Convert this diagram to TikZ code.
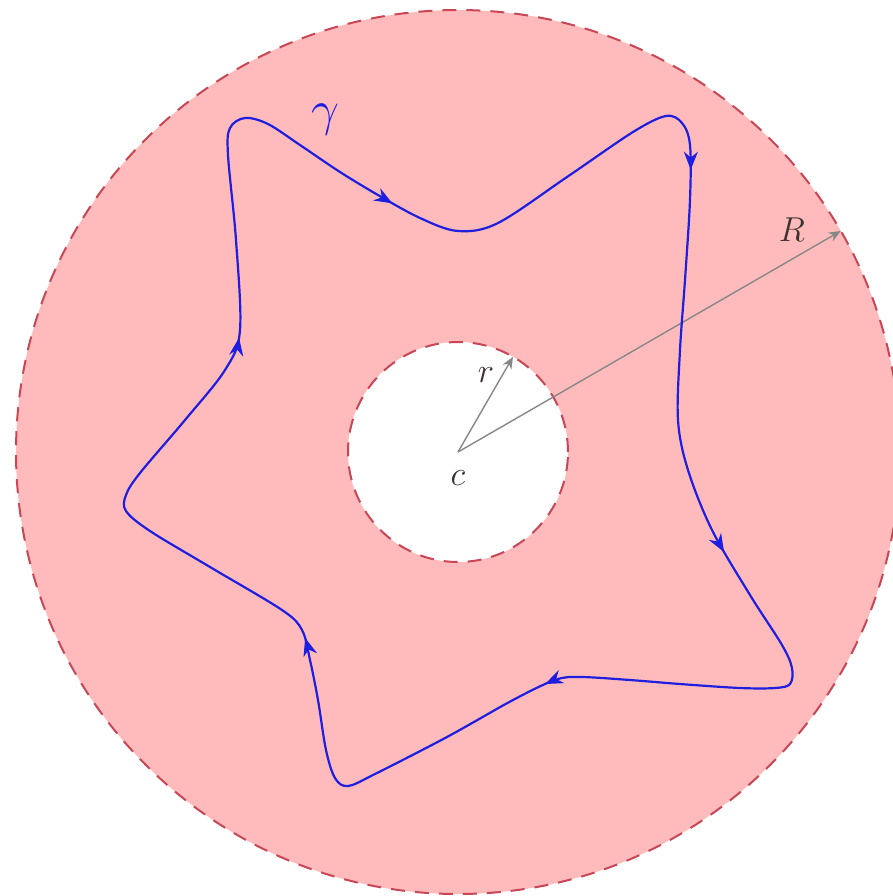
\documentclass[tikz,border=0pt]{standalone}
\usetikzlibrary{arrows.meta,decorations.markings,calc}
\definecolor{diskpink}{RGB}{255,187,187}
\definecolor{rimred}{RGB}{200,70,85}
\definecolor{curveblue}{RGB}{30,30,225}
\definecolor{radgray}{RGB}{135,135,135}
\definecolor{labelgray}{RGB}{60,50,50}
\tikzset{
  rim/.style={draw=rimred, line width=1pt, dash pattern=on 7pt off 5pt},
  curvepath/.style={draw=curveblue, line width=1.1pt, line join=round},
  radarrow/.style={draw=radgray, line width=0.7pt, -{Stealth[length=6pt,width=5pt]}},
  lbl/.style={inner sep=0pt, text=labelgray, font=\fontsize{19}{22}\selectfont},
  gammalbl/.style={inner sep=0pt, text=curveblue, font=\fontsize{34}{40}\selectfont},
  tipmark/.style={decoration={markings,
    mark=at position 0.127 with {\arrow[curveblue]{Stealth[length=9pt,width=7pt]}},
    mark=at position 0.286 with {\arrow[curveblue]{Stealth[length=9pt,width=7pt]}},
    mark=at position 0.450 with {\arrow[curveblue]{Stealth[length=9pt,width=7pt]}},
    mark=at position 0.617 with {\arrow[curveblue]{Stealth[length=9pt,width=7pt]}},
    mark=at position 0.777 with {\arrow[curveblue]{Stealth[length=9pt,width=7pt]}},
    mark=at position 0.959 with {\arrow[curveblue]{Stealth[length=9pt,width=7pt]}}
  }, decorate}
}
\begin{document}
\begin{tikzpicture}[x=0.5pt,y=-0.5pt]
\useasboundingbox (0,0) rectangle (893,896);
\clip (0,0) rectangle (893,896);
\coordinate (c) at (458,452);
% annulus
\fill[diskpink] (c) circle[radius=221pt];
\draw[rim] (c) circle[radius=221pt];
\fill[white] (c) circle[radius=55pt];
\draw[rim] (c) circle[radius=55pt];
% radii
\coordinate (Rend) at ($(c)+(-30:442)$);
\coordinate (rend) at ($(c)+(-60:110)$);
\draw[radarrow] (c) -- (Rend);
\draw[radarrow] (c) -- (rend);
% curve gamma
\draw[curvepath, postaction={tipmark}] plot[smooth cycle, tension=0.55] coordinates {
 (240,330) (236,240) (228,155) (230,128) (245,118) (268,124) (300,145) (340,172)
 (378,195) (420,218) (458,231) (498,223) (567,177) (633,132) (666,116) (682,123)
 (690,145) (690,200) (685,280) (680,350) (678,420) (688,470) (712,530) (750,595)
 (782,645) (792,668) (790,684) (775,688) (740,688) (680,684) (630,680) (580,677)
 (555,680) (513,700) (447,737) (375,774) (348,786) (335,778) (326,750) (318,700)
 (310,660) (302,630) (282,610) (210,567) (150,531) (126,511) (126,495) (140,473)
 (185,420) (225,370)
};
% labels
\node[lbl] (Rlab) at (792,230) {$R$};
\node[lbl] (rlab) at (486,375) {$r$};
\node[lbl] (clab) at (458,478) {$c$};
\node[gammalbl] (glab) at (325,120) {$\gamma$};
\end{tikzpicture}
\end{document}
